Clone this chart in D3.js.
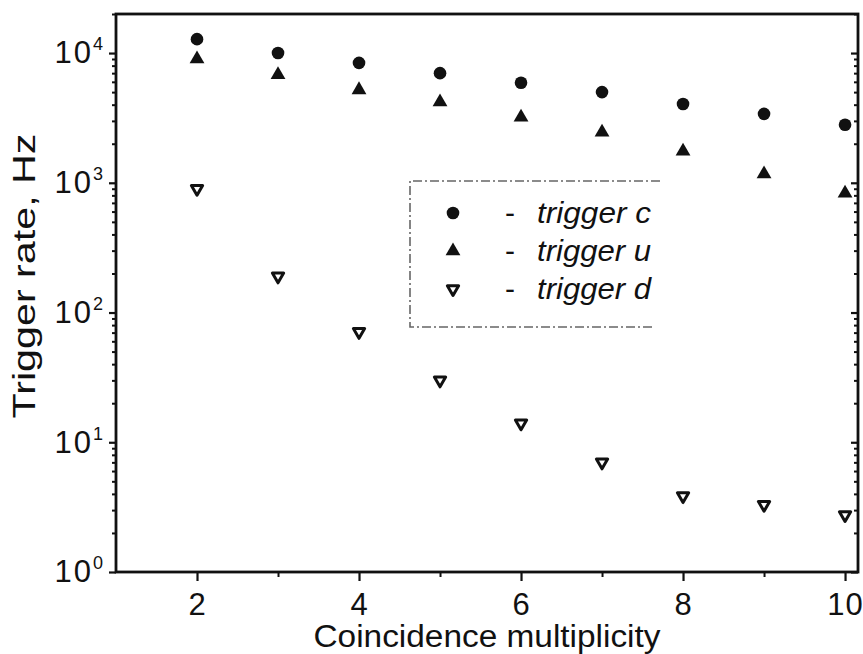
<!DOCTYPE html>
<html>
<head>
<meta charset="utf-8">
<script src="https://cdn.jsdelivr.net/npm/d3@7"></script>
<style>
  html, body { margin: 0; padding: 0; background: #fff; }
  svg { display: block; }
  text { font-family: "Liberation Sans", Arial, Helvetica, sans-serif; fill: #111; }
</style>
</head>
<body>
<svg id="chart" width="863" height="654"></svg>
<script>
// ---- data ----
const multiplicity = [2, 3, 4, 5, 6, 7, 8, 9, 10];
const triggerC = [12800, 10000, 8400, 7000, 5900, 5000, 4050, 3400, 2800];
const triggerU = [9000, 6800, 5200, 4200, 3200, 2450, 1750, 1170, 830];
const triggerD = [900, 190, 71, 30, 14, 7.0, 3.85, 3.3, 2.75];
const seriesNames = ["trigger c", "trigger u", "trigger d"];
const xTickLabels = [2, 4, 6, 8, 10];
const xMinorTicks = [3, 5, 7, 9];
const yExponents = [0, 1, 2, 3, 4];
const xTitle = "Coincidence multiplicity";
const yTitle = "Trigger rate, Hz";

// ---- layout ----
const svg = d3.select("#chart");
const L = 116, R = 858, T = 14, B = 572;

const x = d3.scaleLinear().domain([1, 10.16]).range([L, R]);
const y = d3.scaleLog().domain([1, 20000]).range([B, T]);

const majorY = yExponents.map(e => Math.pow(10, e));
const minorY = [];
yExponents.forEach(e => { for (let k = 2; k <= 9; k++) { const v = k * Math.pow(10, e); if (v <= 20000) minorY.push(v); } });

const black = "#111";

// minor y ticks left
svg.append("g").attr("transform", `translate(${L},0)`)
  .call(d3.axisLeft(y).tickValues(minorY).tickSize(4).tickFormat(""))
  .call(g => g.select(".domain").remove())
  .call(g => g.selectAll("line").attr("stroke", black).attr("stroke-width", 2));
// major y ticks left with labels
const gy = svg.append("g").attr("transform", `translate(${L},0)`)
  .call(d3.axisLeft(y).tickValues(majorY).tickSize(7).tickPadding(6).tickFormat(""))
  .call(g => g.select(".domain").remove())
  .call(g => g.selectAll("line").attr("stroke", black).attr("stroke-width", 2.2));
gy.selectAll(".tick text")
  .attr("font-size", 31).attr("fill", black)
  .attr("font-family", "Liberation Sans, Arial, sans-serif")
  .each(function(d) {
    const t = d3.select(this);
    t.text(null);
    t.append("tspan").text("10").attr("letter-spacing", "2px");
    t.append("tspan").text(Math.round(Math.log10(d))).attr("font-size", 18).attr("dy", "-13");
  });

// right axis ticks (inward)
svg.append("g").attr("transform", `translate(${R},0)`)
  .call(d3.axisLeft(y).tickValues(minorY).tickSize(4).tickFormat(""))
  .call(g => g.select(".domain").remove())
  .call(g => g.selectAll("line").attr("stroke", black).attr("stroke-width", 2));
svg.append("g").attr("transform", `translate(${R},0)`)
  .call(d3.axisLeft(y).tickValues(majorY).tickSize(7).tickFormat(""))
  .call(g => g.select(".domain").remove())
  .call(g => g.selectAll("line").attr("stroke", black).attr("stroke-width", 2.2));

// bottom axis
svg.append("g").attr("transform", `translate(0,${B})`)
  .call(d3.axisBottom(x).tickValues(xMinorTicks).tickSize(5).tickFormat(""))
  .call(g => g.select(".domain").remove())
  .call(g => g.selectAll("line").attr("stroke", black).attr("stroke-width", 2));
svg.append("g").attr("transform", `translate(0,${B})`)
  .call(d3.axisBottom(x).tickValues(xTickLabels).tickSize(9).tickPadding(12).tickFormat(d3.format("d")))
  .call(g => g.select(".domain").remove())
  .call(g => g.selectAll("line").attr("stroke", black).attr("stroke-width", 2.2))
  .call(g => g.selectAll("text").attr("font-size", 31).attr("fill", black)
      .attr("font-family", "Liberation Sans, Arial, sans-serif").attr("letter-spacing", "1px"));

// frame
svg.append("rect").attr("x", L).attr("y", T).attr("width", R - L).attr("height", B - T)
  .attr("fill", "none").attr("stroke", black).attr("stroke-width", 2.8);

// titles
svg.append("text").attr("x", (L + R) / 2).attr("y", 647)
  .attr("text-anchor", "middle").attr("font-size", 31)
  .attr("textLength", 347).attr("lengthAdjust", "spacingAndGlyphs")
  .text(xTitle);
svg.append("text").attr("transform", "translate(35,276) rotate(-90)")
  .attr("text-anchor", "middle").attr("font-size", 31)
  .attr("textLength", 285).attr("lengthAdjust", "spacingAndGlyphs")
  .text(yTitle);

// markers
const circ = d3.symbol().type(d3.symbolCircle).size(125);
const tri = d3.symbol().type(d3.symbolTriangle).size(95);
const triD = d3.symbol().type(d3.symbolTriangle).size(55);

const pts = svg.append("g");
pts.selectAll(".c").data(multiplicity).join("path")
  .attr("d", circ).attr("fill", black)
  .attr("transform", (d, i) => `translate(${x(d)},${y(triggerC[i])})`);
pts.selectAll(".u").data(multiplicity).join("path")
  .attr("d", tri).attr("fill", black)
  .attr("transform", (d, i) => `translate(${x(d)},${y(triggerU[i])})`);
pts.selectAll(".d").data(multiplicity).join("path")
  .attr("d", triD).attr("fill", "#fff").attr("stroke", black).attr("stroke-width", 3)
  .attr("stroke-linejoin", "round")
  .attr("transform", (d, i) => `translate(${x(d)},${y(triggerD[i])}) rotate(180)`);

// legend
const lg = svg.append("g");
lg.append("path").attr("d", "M660,181 H410 V327 H655")
  .attr("fill", "none").attr("stroke", "#666").attr("stroke-width", 1.6)
  .attr("stroke-dasharray", "9,3,2,3");
const legSyms = [
  { sym: circ, fill: black, stroke: "none", rot: 0 },
  { sym: tri, fill: black, stroke: "none", rot: 0 },
  { sym: triD, fill: "#fff", stroke: black, rot: 180 }
];
const rowY = [213, 251, 289];
seriesNames.forEach((name, i) => {
  const s = legSyms[i];
  lg.append("path").attr("d", s.sym).attr("fill", s.fill)
    .attr("stroke", s.stroke).attr("stroke-width", 3).attr("stroke-linejoin", "round")
    .attr("transform", `translate(453,${rowY[i]}) rotate(${s.rot})`);
  lg.append("text").attr("x", 510).attr("y", rowY[i] + 10).attr("text-anchor", "middle")
    .attr("font-size", 30).text("-");
  lg.append("text").attr("x", 537).attr("y", rowY[i] + 10)
    .attr("font-size", 30).attr("font-style", "italic")
    .attr("textLength", 114).attr("lengthAdjust", "spacingAndGlyphs")
    .text(name);
});
</script>
</body>
</html>
